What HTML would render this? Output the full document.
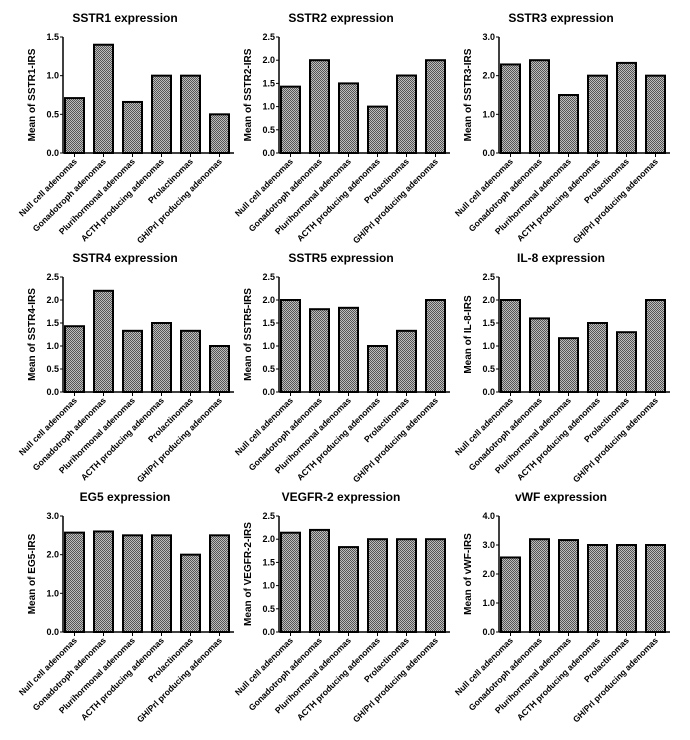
<!DOCTYPE html>
<html><head><meta charset="utf-8"><style>
html,body{margin:0;padding:0;background:#fff;}
svg{display:block;font-family:"Liberation Sans",Arial,sans-serif;}
</style></head><body>
<svg id="fig" width="690" height="740" viewBox="0 0 690 740">
<defs>
<pattern id="chk" width="2" height="2" patternUnits="userSpaceOnUse">
<rect width="2" height="2" fill="#bdbdbd"/><rect width="1" height="1" fill="#555"/><rect x="1" y="1" width="1" height="1" fill="#555"/>
</pattern>
</defs>
</svg>
<script>
const categories = ["Null cell adenomas","Gonadotroph adenomas","Plurihormonal adenomas","ACTH producing adenomas","Prolactinomas","GH/Prl producing adenomas"];
const titles = ["SSTR1 expression","SSTR2 expression","SSTR3 expression","SSTR4 expression","SSTR5 expression","IL-8 expression","EG5 expression","VEGFR-2 expression","vWF expression"];
const yTitles = ["Mean of SSTR1-IRS","Mean of SSTR2-IRS","Mean of SSTR3-IRS","Mean of SSTR4-IRS","Mean of SSTR5-IRS","Mean of IL-8-IRS","Mean of EG5-IRS","Mean of VEGFR-2-IRS","Mean of vWF-IRS"];
const sstr1 = [0.71,1.4,0.66,1.0,1.0,0.5];
const sstr2 = [1.43,2.0,1.5,1.0,1.67,2.0];
const sstr3 = [2.29,2.4,1.5,2.0,2.33,2.0];
const sstr4 = [1.43,2.2,1.33,1.5,1.33,1.0];
const sstr5 = [2.0,1.8,1.83,1.0,1.33,2.0];
const il8 = [2.0,1.6,1.17,1.5,1.3,2.0];
const eg5 = [2.57,2.6,2.5,2.5,2.0,2.5];
const vegfr2 = [2.14,2.2,1.83,2.0,2.0,2.0];
const vwf = [2.57,3.2,3.17,3.0,3.0,3.0];
const yMax = [1.5,2.5,3.0,2.5,2.5,2.5,3.0,2.5,4.0];
const yStep = [0.5,0.5,1.0,0.5,0.5,0.5,1.0,0.5,1.0];
const seriesList = [sstr1,sstr2,sstr3,sstr4,sstr5,il8,eg5,vegfr2,vwf];
const names = ["sstr1","sstr2","sstr3","sstr4","sstr5","il8","eg5","vegfr2","vwf"];

const NS="http://www.w3.org/2000/svg";
const svg=document.getElementById('fig');
const colX=[63,279,499], rowTop=[37,277,516], rowBot=[153,392,632];
function mk(tag,attrs,parent){const e=document.createElementNS(NS,tag);for(const k in attrs)e.setAttribute(k,attrs[k]);parent.appendChild(e);return e;}

seriesList.forEach((vals,i)=>{
  const ax=colX[i%3], top=rowTop[Math.floor(i/3)], bot=rowBot[Math.floor(i/3)];
  const g=mk('g',{},svg);
  
  
  const y=v=>bot-(v/yMax[i])*(bot-top);
  const pitch=29, bw=19;
  const xl=k=>ax+2+k*pitch;
  const t=mk('text',{x:ax+62,y:top-15,'text-anchor':'middle','font-size':'12','font-weight':'bold'},g);
  t.textContent=titles[i];
  
  
  const yt=mk('text',{x:0,y:0,'text-anchor':'middle','font-size':'10','font-weight':'bold',transform:`translate(${ax-28},${(top+bot)/2}) rotate(-90)`},g);
  yt.textContent=yTitles[i];
  
  
  vals.forEach((v,k)=>{
    const r=mk('rect',{x:xl(k),y:y(v),width:bw,height:bot-y(v),fill:'url(#chk)',stroke:'#000','stroke-width':'2'},g);
    
    
  });
  mk('line',{x1:ax,y1:top,x2:ax,y2:bot,stroke:'#000','stroke-width':'1.5'},g);
  mk('line',{x1:ax,y1:bot,x2:ax+171,y2:bot,stroke:'#000','stroke-width':'1.5'},g);
  for(let v=0;v<=yMax[i]+1e-9;v+=yStep[i]){
    mk('line',{x1:ax-3,y1:y(v),x2:ax,y2:y(v),stroke:'#000','stroke-width':'1'},g);
    const tl=mk('text',{x:ax-4,y:y(v)+3,'text-anchor':'end','font-size':'9','font-weight':'bold'},g);
    tl.textContent=v.toFixed(1);
    
    
  }
  categories.forEach((c,k)=>{
    const cx=xl(k)+bw/2;
    mk('line',{x1:cx,y1:bot,x2:cx,y2:bot+4,stroke:'#000','stroke-width':'1'},g);
    const cl=mk('text',{x:0,y:0,'text-anchor':'end','font-size':'8.6','font-weight':'bold',transform:`translate(${cx+3},${bot+9}) rotate(-45)`},g);
    cl.textContent=c;
    
    
  });
});
</script>
</body></html>
